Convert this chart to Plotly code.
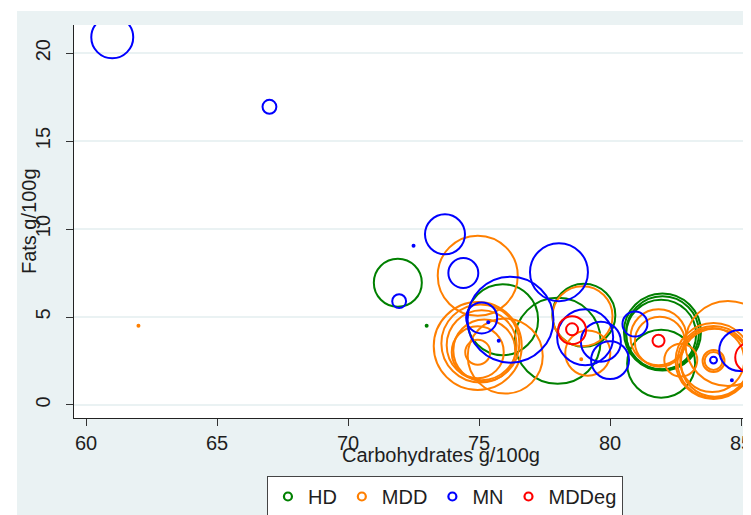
import numpy as np
import plotly.graph_objects as go

# ---- data (carbohydrates g/100g, fats g/100g, bubble weight) ----
hd_carb = [71.9, 73.0, 75.9, 78.0, 79.0, 82.0, 82.0, 81.95, 81.95]
hd_fat = [6.95, 4.5, 4.85, 3.65, 5.1, 4.15, 4.1, 4.0, 2.35]
hd_w = [144, 0.25, 315, 462, 248, 371, 333, 306, 289]

mdd_carb = [62.0, 74.95, 74.95, 75.05, 75.1, 75.2, 74.95, 74.95, 76.0, 78.95, 79.15, 78.9,
            81.85, 81.9, 84.5, 83.95, 83.95, 84.0, 83.9, 83.95, 83.95, 82.7]
mdd_fat = [4.5, 7.35, 3.35, 3.5, 3.4, 3.1, 3.0, 3.0, 2.78, 5.05, 2.95, 2.6,
           3.85, 3.6, 3.5, 2.5, 2.45, 2.4, 2.55, 2.5, 2.5, 2.55]
mdd_w = [0.25, 400, 484, 380, 306, 240, 169, 39, 352, 225, 127, 0.25,
         196, 156, 452, 361, 324, 289, 256, 30, 20, 68]

mn_carb = [61.0, 67.0, 73.7, 74.4, 71.95, 72.5, 75.1, 76.2, 75.35, 75.75, 78.05, 79.05,
           79.65, 80.0, 80.95, 83.95, 84.95, 84.65, 85.15]
mn_fat = [20.9, 16.95, 9.7, 7.5, 5.9, 9.05, 4.95, 4.85, 4.7, 3.65, 7.55, 3.85,
          3.6, 2.55, 4.6, 2.55, 3.1, 1.4, 1.45]
mn_w = [110, 12, 100, 56, 12, 0.25, 60, 462, 0.25, 0.25, 210, 196,
        100, 90, 39, 3, 105, 0.25, 0.25]

mdde_carb = [78.55, 78.55, 81.85, 85.35]
mdde_fat = [4.25, 4.3, 3.65, 2.7]
mdde_w = [49, 9, 9, 56]

groups = ["HD", "MDD", "MN", "MDDeg"]
colors = {"HD": "#008000", "MDD": "#FF7F00", "MN": "#0000FF", "MDDeg": "#FF0000"}
series = {
    "HD": (hd_carb, hd_fat, hd_w),
    "MDD": (mdd_carb, mdd_fat, mdd_w),
    "MN": (mn_carb, mn_fat, mn_w),
    "MDDeg": (mdde_carb, mdde_fat, mdde_w),
}

x_ticks = [60, 65, 70, 75, 80, 85]
y_ticks = [0, 5, 10, 15, 20]

FONT = "Liberation Sans, Arial, sans-serif"
TXT = "#1e1e1e"
BG = "#EAF2F3"

fig = go.Figure()
for g in groups:
    cx, fy, w = series[g]
    sizes = 4 * np.sqrt(np.array(w, dtype=float))
    fig.add_trace(go.Scatter(
        x=cx, y=fy, mode="markers", showlegend=False, name=g,
        marker=dict(symbol="circle-open", size=sizes, color=colors[g], opacity=1,
                    line=dict(width=2, color=colors[g])),
    ))
# legend entries
for g in groups:
    fig.add_trace(go.Scatter(
        x=[None], y=[None], mode="markers", name=g,
        marker=dict(symbol="circle-open", size=8, color=colors[g], opacity=1,
                    line=dict(width=2.2, color=colors[g])),
    ))

# page body has an 8px margin: figure is sized so that it fills the window exactly
fig.update_layout(
    width=743, height=507,
    margin=dict(l=66, r=0, t=17, b=97, autoexpand=False),
    paper_bgcolor=BG, plot_bgcolor="white",
    font=dict(family=FONT, size=20, color=TXT),
    xaxis=dict(range=[59.54, 85.38], tickvals=x_ticks, ticktext=[str(v) for v in x_ticks],
               showgrid=False, zeroline=False, showline=True, linecolor="#222", linewidth=1,
               ticks="outside", ticklen=7, tickcolor="#333", tickwidth=1.2,
               ticklabeloverflow="allow",
               automargin=False, tickfont=dict(size=20, color=TXT)),
    yaxis=dict(range=[-0.74, 21.6], tickvals=y_ticks, ticktext=[str(v) for v in y_ticks],
               showgrid=True, gridcolor=BG, gridwidth=2, zeroline=False,
               showline=True, linecolor="#222", linewidth=1,
               ticks="outside", ticklen=7, tickcolor="#333", tickwidth=1.2,
               automargin=False, ticklabelstandoff=8,
               tickangle=-90, tickfont=dict(size=20, color=TXT)),
    legend=dict(orientation="h", x=0.285, y=-0.1476, xanchor="left", yanchor="top",
                bgcolor="white", bordercolor="#444", borderwidth=1,
                font=dict(size=20, color=TXT), itemwidth=30),
    shapes=[
        dict(type="rect", xref="paper", yref="paper", x0=-0.2, x1=-0.0842, y0=-0.5, y1=1.2,
             fillcolor="white", line=dict(width=0), layer="below"),
        dict(type="rect", xref="paper", yref="paper", x0=-0.2, x1=1.2, y0=1.0356, y1=1.2,
             fillcolor="white", line=dict(width=0), layer="below"),
    ],
    annotations=[
        dict(text="Carbohydrates g/100g", xref="paper", yref="paper", x=0.542, y=-0.094,
             xanchor="center", yanchor="middle", showarrow=False,
             font=dict(size=20, color=TXT)),
        dict(text="Fats g/100g", xref="paper", yref="paper", x=-0.0665, y=0.501,
             xanchor="center", yanchor="middle", textangle=-90, showarrow=False,
             font=dict(size=20, color=TXT)),
    ],
)

fig.write_html("out.html")
